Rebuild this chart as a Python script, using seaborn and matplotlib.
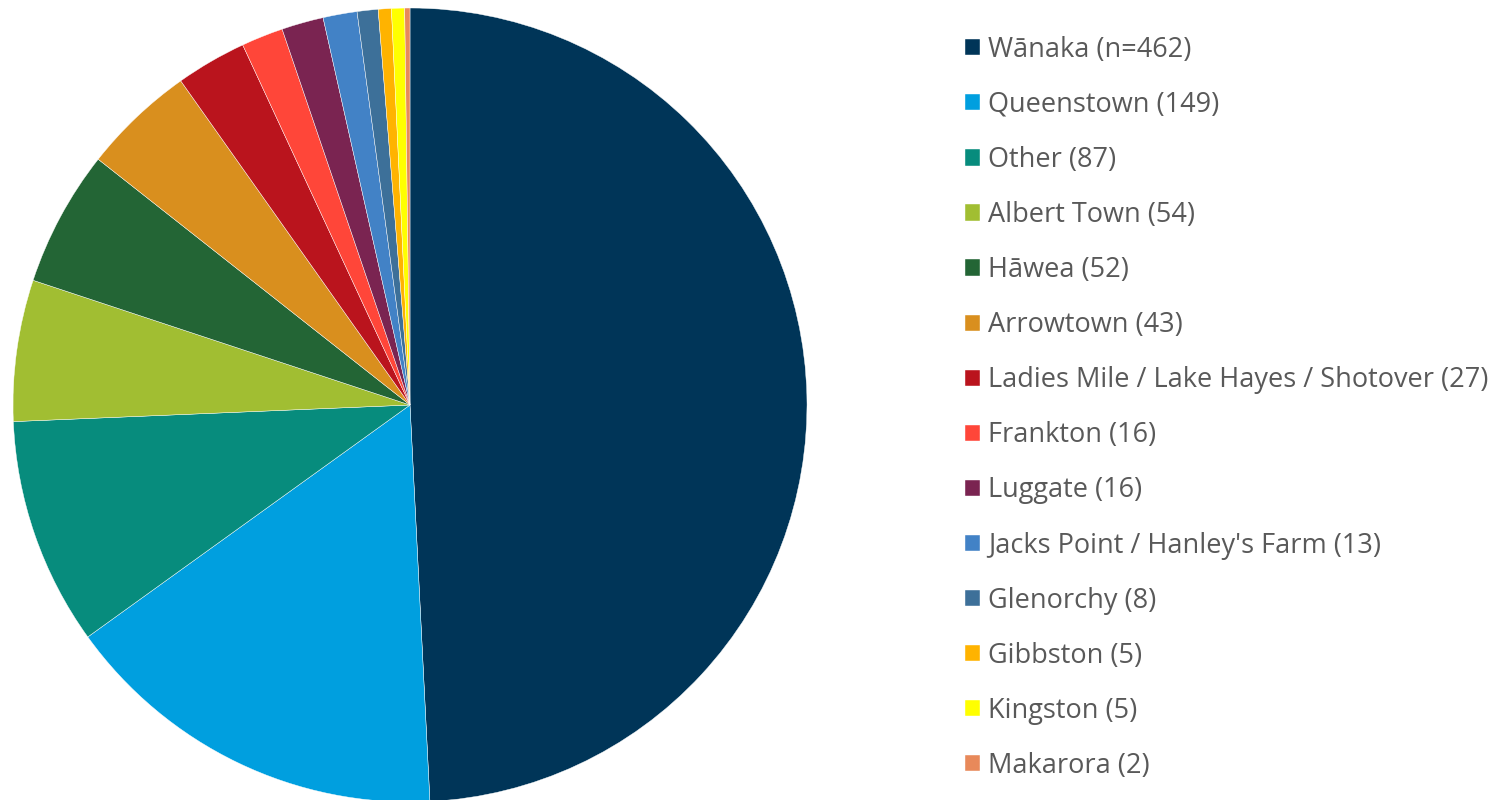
import matplotlib
matplotlib.use("Agg")
import matplotlib.pyplot as plt
import seaborn as sns

# data
locations = ["Wānaka (n=462)", "Queenstown (149)", "Other (87)", "Albert Town (54)",
             "Hāwea (52)", "Arrowtown (43)", "Ladies Mile / Lake Hayes / Shotover (27)",
             "Frankton (16)", "Luggate (16)", "Jacks Point / Hanley's Farm (13)",
             "Glenorchy (8)", "Gibbston (5)", "Kingston (5)", "Makarora (2)"]
counts = [462, 149, 87, 54, 52, 43, 27, 16, 16, 13, 8, 5, 5, 2]
slice_colors = ["#003558", "#009FDF", "#078C7D", "#A1BE32", "#236535", "#D98F1E",
                "#BA141D", "#FF4639", "#7A2451", "#4282C6", "#3D7099", "#FFB300",
                "#FFFF00", "#E8895A"]

sns.set_theme(style="white")
plt.rcParams['font.family'] = ['Open Sans', 'DejaVu Sans']
palette = sns.color_palette(slice_colors)

fig = plt.figure(figsize=(14.93, 8), dpi=100)
ax = fig.add_axes([13 / 1493, -2 / 800, 794 / 1493, 794 / 800])
wedges, _ = ax.pie(counts, colors=palette, startangle=90, counterclock=False,
                   radius=1.0, wedgeprops=dict(linewidth=0.3, edgecolor="white"))
ax.set_xlim(-1, 1)
ax.set_ylim(-1, 1)
ax.set_aspect("equal")
ax.axis("off")

leg = fig.legend(wedges, locations, loc="upper left",
                 bbox_to_anchor=(954 / 1493, 1 - 25 / 800),
                 frameon=False, fontsize=19.5, labelspacing=1.0,
                 handlelength=0.55, handleheight=0.55, handletextpad=0.3,
                 borderaxespad=0)
for t in leg.get_texts():
    t.set_color("#595959")

fig.savefig("out.png", dpi=100)
plt.close(fig)
